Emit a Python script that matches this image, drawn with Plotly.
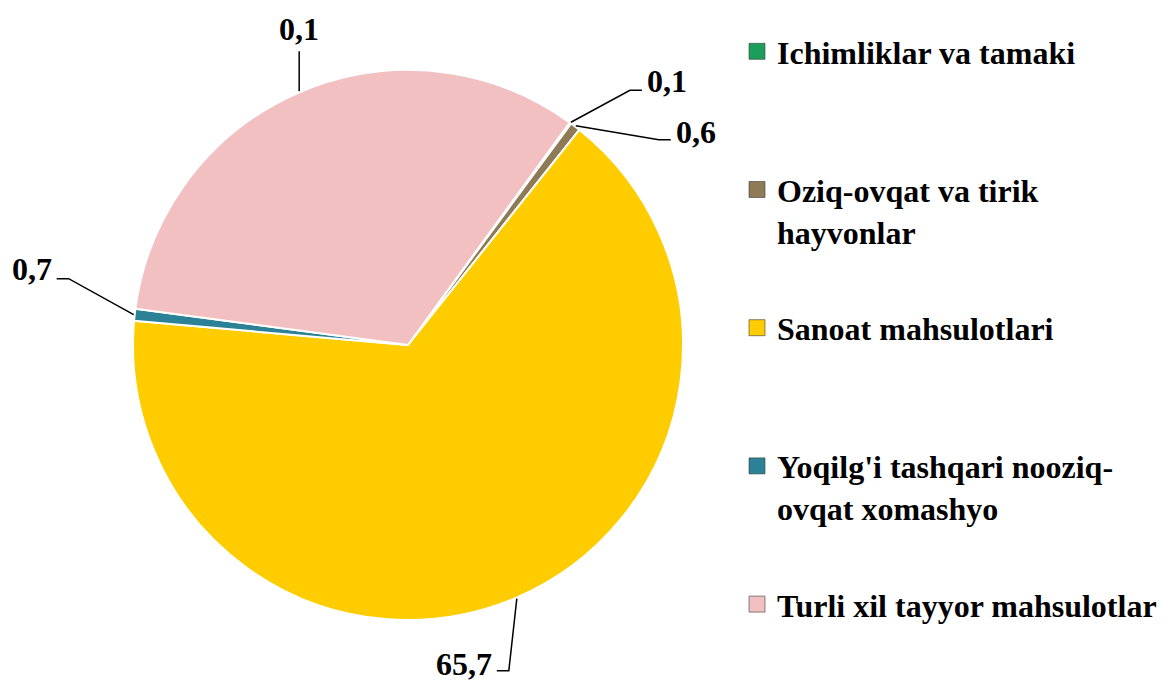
import math
import plotly.graph_objects as go

# ---- data ----
categories = [
    "Ichimliklar va tamaki",
    "Oziq-ovqat va tirik hayvonlar",
    "Sanoat mahsulotlari",
    "Yoqilg'i tashqari nooziq-ovqat xomashyo",
    "Turli xil tayyor mahsulotlar",
]
legend_names = [
    "Ichimliklar va tamaki<br> ",
    "Oziq-ovqat va tirik<br>hayvonlar",
    "Sanoat mahsulotlari<br> ",
    "Yoqilg'i tashqari nooziq-<br>ovqat xomashyo",
    "Turli xil tayyor mahsulotlar<br> ",
]
values = [0.1, 0.6, 65.7, 0.7, 32.9]
value_labels = ["0,1", "0,6", "65,7", "0,7", "0,1"]

# ---- style ----
colors = ["#1A9E5A", "#8E7A55", "#FFCC00", "#2B8297", "#F2C0C0"]
W, H = 1165, 680
OFF = 8  # page body margin
FONT = "Liberation Serif"
ROTATION = 36
CX, CY, R = 408, 345, 275  # pie center/radius in page pixels

# leader line geometry per label: elbow offset (dx, dy), horizontal run, text anchor, text offset
leader = [
    dict(dx=59, dy=-32, h=12, anchor="left", tdx=3, tdy=-9),
    dict(dx=83, dy=14, h=12, anchor="left", tdx=3, tdy=-8),
    dict(dx=-8, dy=72, h=-12, anchor="right", tdx=-3, tdy=-7),
    dict(dx=-65, dy=-36, h=-12, anchor="right", tdx=-3, tdy=-10),
    dict(dx=0, dy=-40, h=0, anchor="center", tdx=0, tdy=-22),
]

def px(x):
    return (x - OFF) / W

def py(y):
    return 1 - (y - OFF) / H

fig = go.Figure()
fig.add_trace(go.Pie(
    labels=categories,
    values=values,
    sort=False,
    direction="clockwise",
    rotation=ROTATION,
    textinfo="none",
    marker=dict(colors=colors, line=dict(color="white", width=2)),
    domain=dict(x=[px(CX - R), px(CX + R)], y=[py(CY + R), py(CY - R)]),
    showlegend=False,
    hoverinfo="label+value",
))

# legend entries
for name, col in zip(legend_names, colors):
    fig.add_trace(go.Scatter(
        x=[None], y=[None], mode="markers", name=name, legendgroup=name,
        marker=dict(symbol="square", size=16, color=col,
                    line=dict(color="rgba(60,60,60,0.6)", width=1)),
        hoverinfo="skip",
    ))

# labels with leader lines computed from slice geometry
total = sum(values)
cum = 0.0
shapes, annotations = [], []
for v, txt, st in zip(values, value_labels, leader):
    theta = math.radians(ROTATION + 360.0 * (cum + v / 2) / total)
    cum += v
    x0 = CX + (R + 1) * math.sin(theta)
    y0 = CY - (R + 1) * math.cos(theta)
    x1, y1 = x0 + st["dx"], y0 + st["dy"]
    x2, y2 = x1 + st["h"], y1
    shapes.append(dict(
        type="path", xref="paper", yref="paper",
        path=f"M {px(x0)} {py(y0)} L {px(x1)} {py(y1)} L {px(x2)} {py(y2)}",
        line=dict(color="black", width=1.5),
    ))
    annotations.append(dict(
        x=px(x2 + st["tdx"]), y=py(y2 + st["tdy"]), xref="paper", yref="paper",
        text=f"<b>{txt}</b>", showarrow=False, xanchor=st["anchor"], yanchor="middle",
        font=dict(family=FONT, size=32, color="black"),
    ))

fig.update_layout(
    width=W, height=H,
    margin=dict(l=0, r=0, t=0, b=0),
    paper_bgcolor="white", plot_bgcolor="white",
    xaxis=dict(visible=False), yaxis=dict(visible=False),
    shapes=shapes, annotations=annotations,
    showlegend=True,
    legend=dict(
        x=px(737), y=py(24), xanchor="left", yanchor="top",
        traceorder="grouped", tracegroupgap=52, valign="top",
        font=dict(family=FONT, size=32, color="black", weight="bold"),
        bgcolor="rgba(0,0,0,0)",
    ),
)

fig.write_html("out.html")
